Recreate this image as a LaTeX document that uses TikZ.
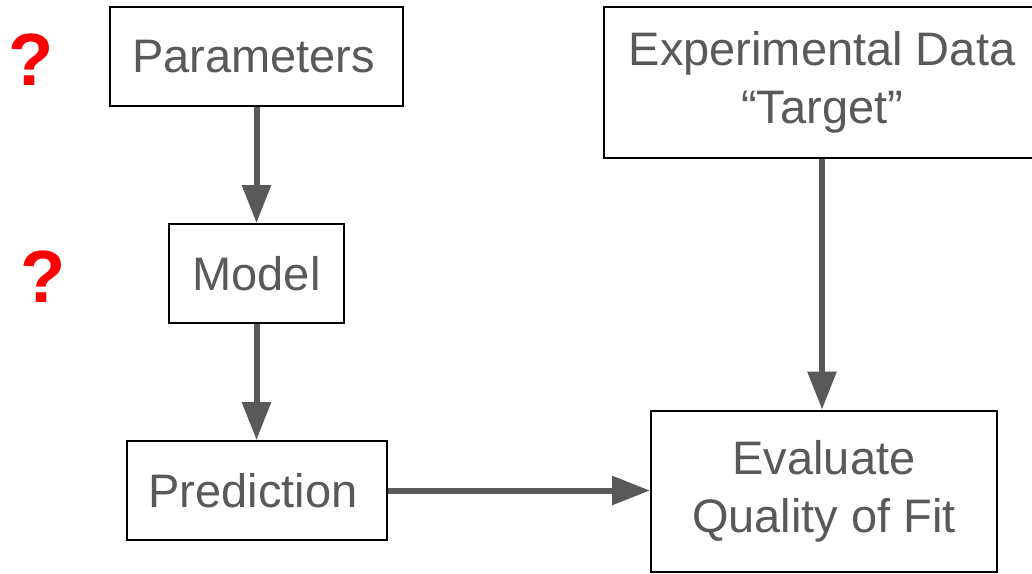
\documentclass[tikz,border=0pt]{standalone}
\usepackage{fontspec}
\setmainfont{Liberation Sans}
\usetikzlibrary{arrows.meta}
\definecolor{txtgray}{HTML}{595959}
\definecolor{qred}{HTML}{FF0000}
\tikzset{
  box/.style={draw=black, line width=2pt, fill=white, rectangle, inner sep=0pt,
    text=txtgray, font=\fontsize{47}{58}\selectfont, align=center},
  flow/.style={draw=txtgray, line width=6pt,
    -{Triangle[length=38pt,width=28pt]}},
  qmark/.style={text=qred, font=\fontsize{74}{74}\selectfont\bfseries, inner sep=0pt}
}
\begin{document}
\begin{tikzpicture}[x=1pt,y=-1pt]
\useasboundingbox (0,0) rectangle (1032,573);
\clip (0,0) rectangle (1032,573);
\node[box, minimum width=293pt, minimum height=99pt] (par) at (256.5,56.5) {Parameters\hspace*{6pt}};
\node[box, minimum width=175pt, minimum height=99pt] (mod) at (256.5,273.5) {Model};
\node[box, minimum width=260pt, minimum height=99pt] (pred) at (257,490.5) {Prediction\hspace*{8pt}};
\node[box, minimum width=436pt, minimum height=151pt] (exp) at (822,82.5) {Experimental Data\\``Target''};
\node[box, minimum width=346pt, minimum height=161pt] (eval) at (824,491) {Evaluate\\Quality of Fit};
\node[qmark] (q1) at (31,60) {?};
\node[qmark] (q2) at (43,277) {?};
\draw[flow] (par.south) -- (par.south |- mod.north);
\draw[flow] (mod.south) -- (mod.south |- pred.north);
\draw[flow] (pred.east) -- (pred.east -| eval.west);
\draw[flow] (exp.south) -- (exp.south |- eval.north);
\end{tikzpicture}
\end{document}
